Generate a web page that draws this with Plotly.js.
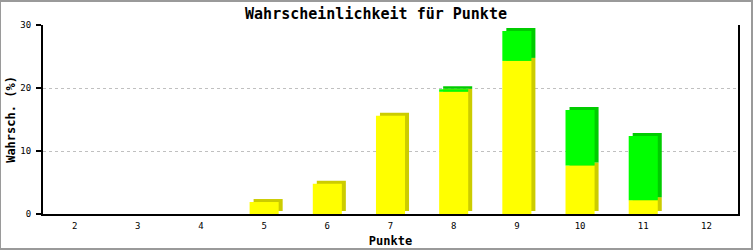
<!DOCTYPE html>
<html>
<head>
<meta charset="utf-8">
<script src="https://cdn.plot.ly/plotly-3.0.1.min.js"></script>
<style>
html,body{margin:0;padding:0;background:#fff;}
#frame{box-sizing:border-box;width:753px;height:250px;border:2px solid #9a9a9a;border-left-width:1px;}
#chart{width:750px;height:246px;}
</style>
</head>
<body>
<div id="frame"><div id="chart"></div></div>
<script>
const categories = ['2','3','4','5','6','7','8','9','10','11','12'];
const yellowValues = [0, 0, 0, 1.9, 4.8, 15.6, 19.4, 24.3, 7.7, 2.2, 0];
const greenValues  = [0, 0, 0, 0, 0, 0, 0.4, 4.75, 8.8, 10.2, 0];
const tickValsY = [0, 10, 20, 30];

const W = 750, H = 246;
const margin = {l: 42, r: 13, t: 23, b: 34};
const yMax = 30;
const plotW = W - margin.l - margin.r;
const plotH = H - margin.t - margin.b;
const pxPerCat = plotW / categories.length;
const pxPerUnit = plotH / yMax;
const depthX = 4 / pxPerCat;     // 3D depth in category units
const depthY = 3 / pxPerUnit;    // 3D depth in value units
const barW = 0.46;

const common = {type: 'bar', x: categories, width: barW, hoverinfo: 'skip', showlegend: false, marker: {line: {width: 0}}};

const traces = [
  Object.assign({}, common, {y: yellowValues.map(v => v > 0 ? v : null), base: yellowValues.map(v => depthY), offset: -barW/2 + depthX, marker: {color: '#cccc00', line: {width: 0}}}),
  Object.assign({}, common, {y: greenValues.map(v => v > 0 ? v : null), base: yellowValues.map(v => v + depthY), offset: -barW/2 + depthX, marker: {color: '#00cc00', line: {width: 0}}}),
  Object.assign({}, common, {y: yellowValues, base: yellowValues.map(() => 0), offset: -barW/2, marker: {color: '#ffff00', line: {width: 0}}}),
  Object.assign({}, common, {y: greenValues.map(v => v > 0 ? v : null), base: yellowValues, offset: -barW/2, marker: {color: '#00ff00', line: {width: 0}}})
];

const mono = '"DejaVu Sans Mono", "Liberation Mono", monospace';

const layout = {
  width: W, height: H,
  margin: margin,
  paper_bgcolor: '#ffffff',
  plot_bgcolor: '#ffffff',
  barmode: 'overlay',
  showlegend: false,
  title: {text: '<b>Wahrscheinlichkeit für Punkte</b>', font: {family: mono, size: 15, color: '#000'}, x: 0.5, xanchor: 'center', y: 1 - 12/H, yanchor: 'middle'},
  xaxis: {
    type: 'category',
    range: [-0.5, categories.length - 0.5],
    showline: true, linecolor: '#000', linewidth: 2,
    ticks: '', showgrid: false, zeroline: false,
    tickfont: {family: mono, size: 9, color: '#000'},
    ticklabelstandoff: 2,
    title: {text: '<b>Punkte</b>', font: {family: mono, size: 12, color: '#000'}, standoff: 9}
  },
  yaxis: {
    range: [0, yMax],
    tickvals: tickValsY,
    ticktext: tickValsY.map(String),
    showline: true, linecolor: '#000', linewidth: 2, mirror: true,
    ticks: 'outside', ticklen: 5, tickwidth: 2, tickcolor: '#000',
    showgrid: true, gridcolor: '#c0c0c0', gridwidth: 1, griddash: '3px,3px',
    zeroline: false,
    tickfont: {family: mono, size: 9, color: '#000'},
    ticklabelstandoff: 3,
    title: {text: '<b>Wahrsch. (%)</b>', font: {family: mono, size: 12, color: '#000'}, standoff: 2}
  }
};

Plotly.newPlot('chart', traces, layout, {staticPlot: true, displayModeBar: false});
</script>
</body>
</html>
